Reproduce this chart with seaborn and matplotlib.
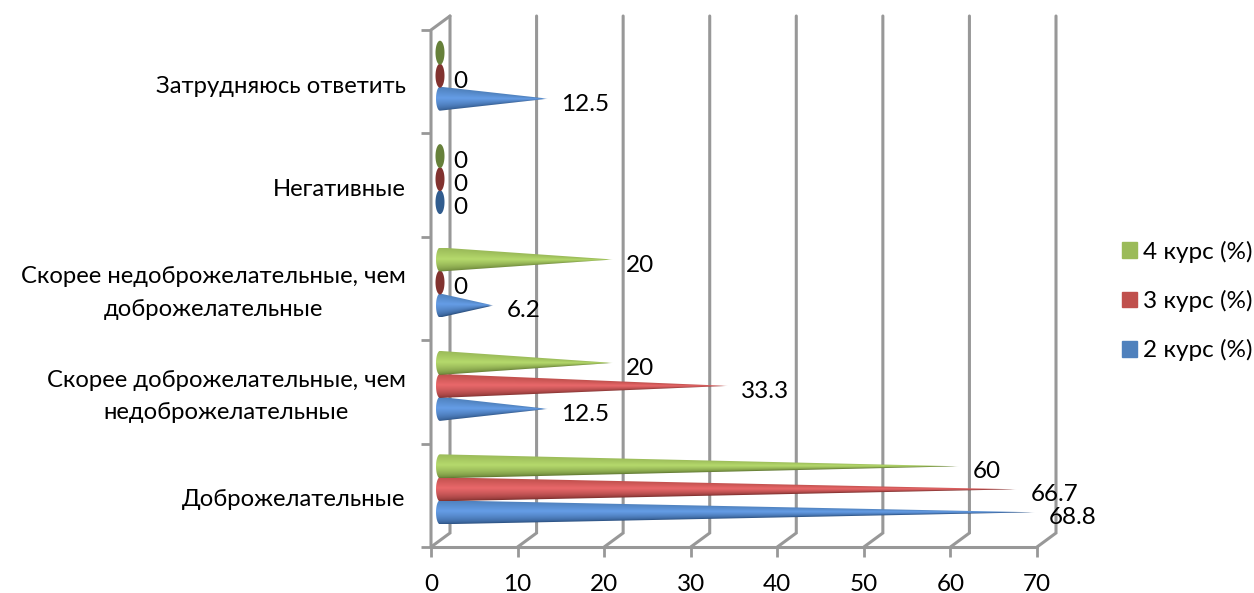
import numpy as np
import pandas as pd
import matplotlib
matplotlib.use("Agg")
import matplotlib.pyplot as plt
from matplotlib.patches import Patch, PathPatch
from matplotlib.path import Path
from matplotlib.colors import to_rgb
import seaborn as sns

categories = ["Доброжелательные",
              "Скорее доброжелательные, чем\nнедоброжелательные",
              "Скорее недоброжелательные, чем\nдоброжелательные",
              "Негативные",
              "Затрудняюсь ответить"]
series_names = ["2 курс (%)", "3 курс (%)", "4 курс (%)"]
values_2 = [68.8, 12.5, 6.2, 0, 12.5]
values_3 = [66.7, 33.3, 0, 0, 0]
values_4 = [60, 20, 20, 0, 0]
labels_2 = ["68.8", "12.5", "6.2", "0", "12.5"]
labels_3 = ["66.7", "33.3", "0", "0", "0"]
labels_4 = ["60", "20", "20", "0", ""]
xticks = [0, 10, 20, 30, 40, 50, 60, 70]
base_colors = ["#4F81BD", "#C0504D", "#9BBB59"]
light_colors = ["#659DE6", "#E9686A", "#B5D96C"]
dark_colors = ["#2B5080", "#7A2E2C", "#5F7731"]
end_colors = ["#315C8E", "#81322F", "#66803A"]

W, H = 1254, 593
sns.set_theme(style="white")
plt.rcParams["font.family"] = ["Lato", "DejaVu Sans"]
FS = 17.5
GRID = "#989898"

fig = plt.figure(figsize=(W / 100, H / 100), dpi=100)
ax = fig.add_axes([431 / W, (H - 547) / H, 606 / W, 517 / H])

df = pd.DataFrame({
    "cat": categories * 3,
    "val": values_2 + values_3 + values_4,
    "ser": np.repeat(series_names, len(categories)),
})
sns.barplot(data=df, y="cat", x="val", hue="ser", order=categories,
            hue_order=series_names, palette=base_colors, orient="h",
            width=0.667, gap=0, saturation=1, legend=False, ax=ax)
ax.set_xlim(0, 70)
ax.set_ylim(-0.5, 4.5)
ax.set_xlabel("")
ax.set_ylabel("")

pxx = 70 / 606
pxy = 5 / 517
for s in ax.spines.values():
    s.set_visible(False)

# pseudo-3D walls
dx3, dy3 = 19 * pxx, 14 * pxy
for t in xticks:
    ax.plot([t, t + dx3, t + dx3], [-0.5, -0.5 + dy3, 4.5 + dy3], color=GRID,
            lw=2.2, clip_on=False, zorder=1, solid_joinstyle="miter")
ax.plot([0, 0, dx3], [-0.5, 4.5, 4.5 + dy3], color=GRID, lw=2.2, clip_on=False, zorder=1.1)
ax.plot([0, 70], [-0.5, -0.5], color=GRID, lw=2.2, clip_on=False, zorder=1.1)

ax.set_xticks(xticks)
ax.set_xticklabels([str(t) for t in xticks], fontsize=FS, color="black")
ax.set_yticks(np.arange(-0.5, 5))
ax.set_yticklabels([""] * 6)
ax.tick_params(axis="both", length=7, width=2.0, color=GRID, bottom=True, left=True)
ax.tick_params(axis="x", pad=12.5)
for i, c in enumerate(categories):
    ax.annotate(c, xy=(0, i + 0.0), xycoords=("data", "data"),
                xytext=(-25.5 * 0.72, -4.5 * 0.72), textcoords="offset points",
                ha="right", va="center", multialignment="center", fontsize=17.2,
                linespacing=1.65, color="black")


def draw_cone(y_c, half, val, ci):
    x0 = 9 * pxx
    rx = 4 * pxx
    lo, mid, hi = (np.array(to_rgb(c)) for c in (dark_colors[ci], light_colors[ci], base_colors[ci]))
    if val == 0:
        rz = 4.5 * pxx
        th = np.linspace(0, 2 * np.pi, 60)
        verts = np.c_[x0 + rz * np.cos(th), y_c + half * np.sin(th)]
        ax.add_patch(PathPatch(Path(verts), fc=end_colors[ci], ec="none", zorder=3, clip_on=False))
        return
    tip = x0 + val
    th = np.linspace(np.pi / 2, 3 * np.pi / 2, 30)
    verts = np.vstack([np.c_[x0 + rx * np.cos(th), y_c + half * np.sin(th)], [[tip, y_c]]])
    path = PathPatch(Path(np.vstack([verts, verts[:1]])), transform=ax.transData, fc="none", ec="none")
    ax.add_patch(path)
    nx, ny = 700, 80
    xs = np.linspace(x0 - rx, tip, nx)
    ys = np.linspace(y_c + half, y_c - half, ny)
    xg, yg = np.meshgrid(xs, ys)
    frac = np.clip((xg - x0) / val, 0, 1)
    w = np.maximum(half * (1 - frac), 1e-6)
    t = np.clip((yg - y_c) / w, -1, 1)   # +1 top, -1 bottom
    img = np.zeros((ny, nx, 4))
    for k in range(3):
        upper = mid[k] + (hi[k] - mid[k]) * np.clip((t - 0.1) / 0.9, 0, 1)
        lower = lo[k] + (mid[k] - lo[k]) * np.clip((t + 1) / 1.1, 0, 1) ** 0.55
        img[..., k] = np.where(t > 0.1, upper, lower)
    img[..., 3] = np.clip((1 - frac) / (0.8 / max(val, 8)), 0, 1)
    im = ax.imshow(img, extent=(xs[0], xs[-1], y_c - half, y_c + half), aspect="auto",
                   origin="upper", zorder=3, interpolation="bilinear")
    im.set_clip_path(path)


for ci, (bars, labs) in enumerate(zip(ax.containers, [labels_2, labels_3, labels_4])):
    for bar, lab in zip(bars, labs):
        bar.set_visible(False)
        y_c = bar.get_y() + bar.get_height() / 2 + 6 * pxy
        half = 12 * pxy
        val = bar.get_width()
        draw_cone(y_c, half, val, ci)
        if lab:
            ax.annotate(lab, xy=(9 * pxx + val, y_c), xytext=(13 * 0.72, -5.5 * 0.72),
                        textcoords="offset points", ha="left", va="center",
                        fontsize=FS, color="black", zorder=5, annotation_clip=False)

ax.set_xlim(0, 70)
ax.set_ylim(-0.5, 4.5)

handles = [Patch(color=c, label=n) for c, n in zip(base_colors, series_names)][::-1]
fig.legend(handles=handles, loc="center left", bbox_to_anchor=(1122 / W, (H - 301) / H),
           frameon=False, fontsize=FS, handlelength=0.62, handleheight=0.62,
           handletextpad=0.25, labelspacing=1.12, borderpad=0, borderaxespad=0,
           labelcolor="black")

fig.savefig("out.png", dpi=100)
